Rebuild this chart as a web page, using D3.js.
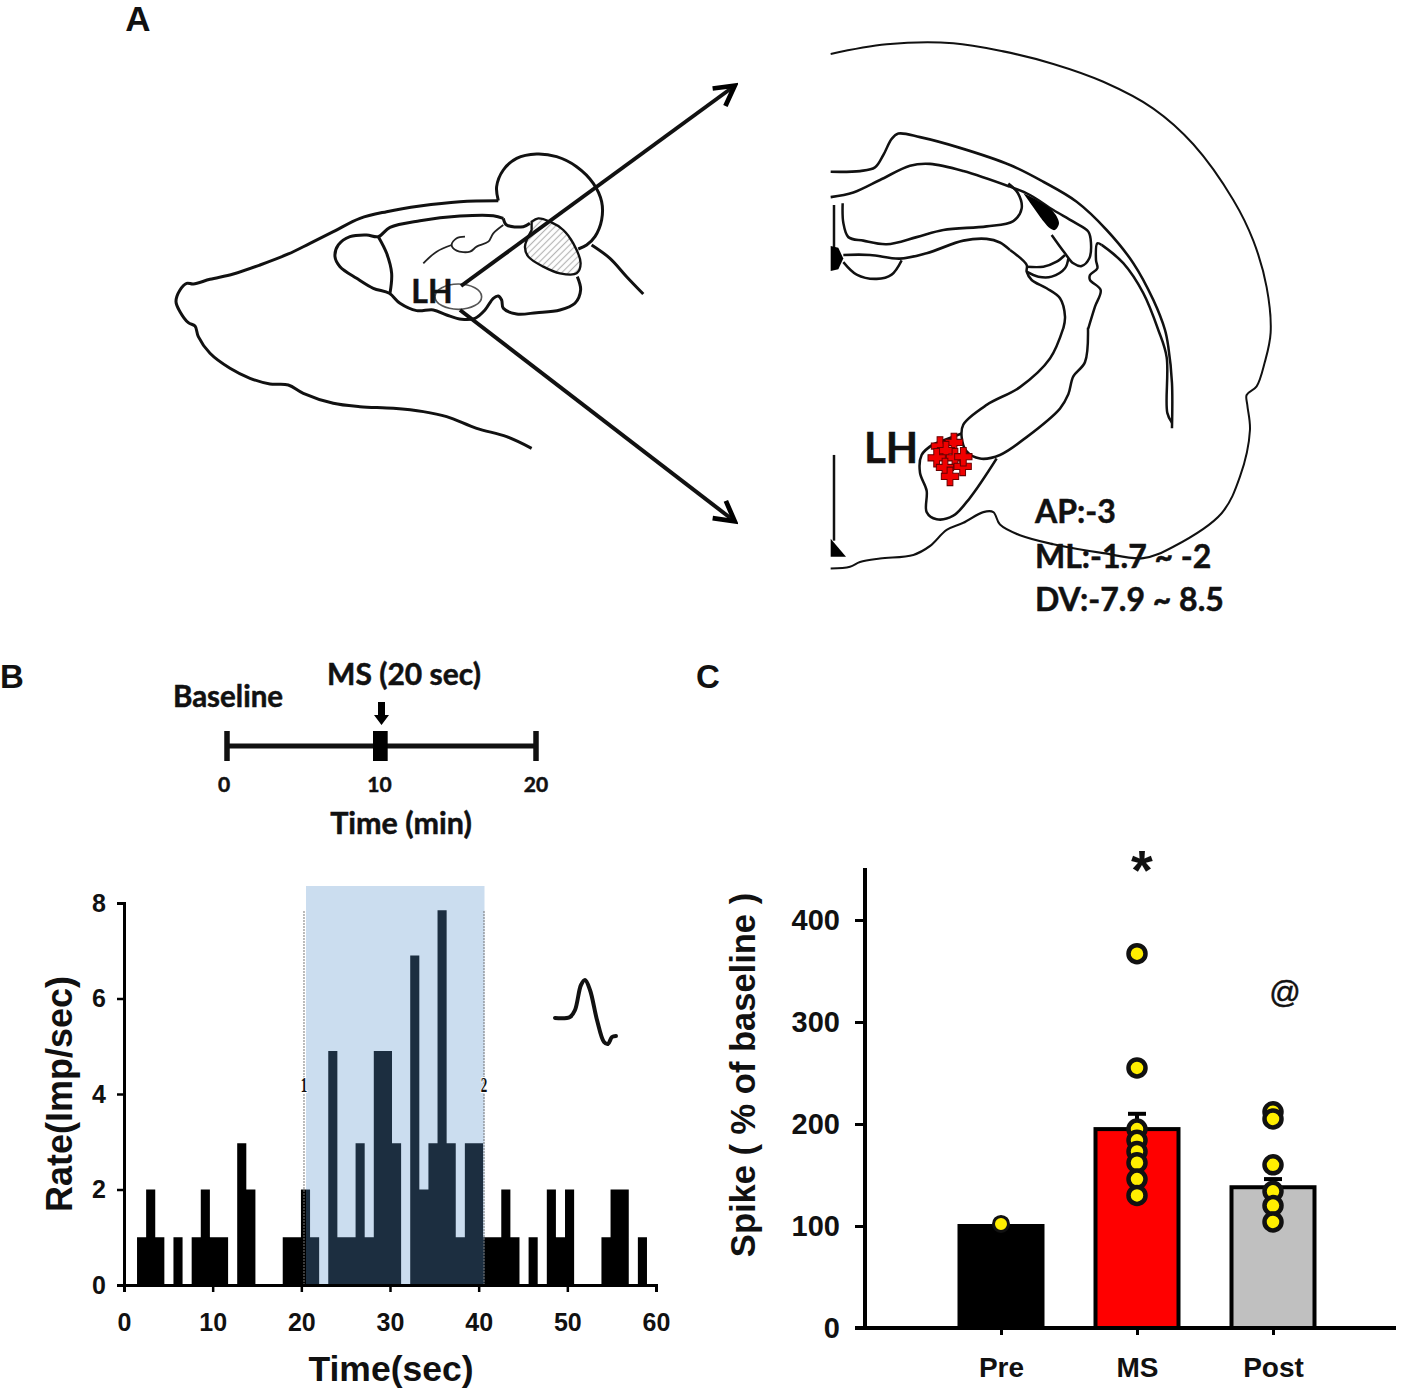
<!DOCTYPE html>
<html>
<head>
<meta charset="utf-8">
<script src="https://cdn.jsdelivr.net/npm/d3@7"></script>
<style>
  html, body { margin: 0; padding: 0; background: #fff; }
  svg { display: block; }
  text { fill: #111; }
  .arial { font-family: "Liberation Sans", sans-serif; font-weight: bold; }
  .calibri { font-family: Lato, "Noto Sans", sans-serif; font-weight: bold; stroke: #111; stroke-width: 0.5px; }
</style>
</head>
<body>
<div id="chart"></div>
<script>
// panel B histogram, rate per bin (bins are about 1 sec wide, first one starts near 1.5 sec)
var binStart = 1.47
var binWidth = 1.027
var rates = [1, 2, 1, 0, 1, 0, 1, 2, 1, 1, 0, 2.97, 2, 0, 0, 0, 1, 1, 2, 1,
             0, 4.9, 1, 1, 2.97, 1, 4.9, 4.9, 2.97, 0, 6.9, 2, 2.97, 7.85, 2.97, 1, 2.97, 2.97, 1, 1,
             2, 1, 0, 1, 0, 2, 1, 2, 0, 0, 0, 1, 2, 2, 0, 1]
var rateTicks = [0, 2, 4, 6, 8]
var timeTicks = [0, 10, 20, 30, 40, 50, 60]
var stimWindow = [20.3, 40.6]

// panel B schedule
var scheduleTicks = [0, 10, 20]
var scheduleStim = [9.45, 10.4]

// panel C
var groups = ["Pre", "MS", "Post"]
var means = [100, 195, 138]
var errors = [0, 15, 8]
var barColors = ["#000000", "#ff0000", "#c0c0c0"]
var preSpikes = [102]
var msSpikes = [367, 255, 195, 184, 173, 162, 146, 130]
var postSpikes = [212, 205, 160, 134, 120, 104]
var spikeTicks = [0, 100, 200, 300, 400]

// panel A drawings, in crop coordinates
var sagittalLines = [
  [[1015,212],[900,215],[780,228],[680,245],[600,265],[520,305],[450,340],[385,372],[300,405],[220,432],[150,448],[100,462],[80,460],[60,480],[48,515],[60,545],[85,578],[105,588],[115,620],[150,670],[210,715],[270,745],[330,762],[385,765],[430,790],[520,820],[600,830],[700,835],[790,845],[860,860],[950,895],[1040,920],[1115,955]],
  [[1015,212],[1010,170],[1030,120],[1070,85],[1130,72],[1190,80],[1250,110],[1300,160],[1325,215],[1325,270],[1305,320],[1280,345],[1255,357]],
  [[1295,345],[1350,385],[1400,440],[1450,492]],
  [[1030,265],[1000,257],[900,258],[780,272],[690,292],[655,320],[620,315],[570,320],[535,345],[525,380],[540,410],[590,445],[640,475],[688,490],[720,520],[770,542],[820,540],[860,555],[905,568],[945,565],[975,540],[1000,505],[1015,498],[1025,510],[1030,535],[1070,552],[1130,548],[1200,540],[1245,520],[1262,480],[1252,440]],
  [[655,320],[680,370],[695,430],[690,490]],
  [[1030,265],[1040,285],[1090,290],[1110,280]]
]
var sagittalThin = [
  [[1030,285],[1000,310],[985,335],[950,350],[930,365],[890,362],[875,345],[890,325],[915,320]],
  [[875,345],[830,365],[790,400]]
]
var hatchOutline = [[1115,275],[1135,265],[1170,275],[1210,300],[1240,340],[1262,400],[1250,430],[1200,430],[1150,410],[1105,380],[1095,350],[1115,300]]
var coronalOuter = [[32,67],[200,40],[400,37],[550,60],[700,95],[850,145],[1000,220],[1120,320],[1240,476],[1300,590],[1340,720],[1352,848],[1334,932],[1310,998],[1280,1022],[1282,1050],[1290,1120],[1260,1251],[1205,1353],[1060,1447],[970,1479],[850,1465],[700,1440],[600,1415],[540,1385],[520,1350],[490,1350],[430,1380],[380,1400],[330,1445],[280,1470],[180,1480],[120,1490],[90,1503],[32,1508]]
var coronalLines = [
  [[32,397],[120,395],[165,385],[190,350],[215,305],[235,290],[300,300],[420,330],[570,378],[670,425],[770,481],[860,560],[940,653],[1000,756],[1035,840],[1045,887],[1056,988],[1056,1115]],
  [[32,468],[100,455],[180,420],[270,380],[330,375],[430,395],[570,439]],
  [[845,602],[910,653],[970,737],[1015,840],[1040,916],[1042,1072],[1056,1100]],
  [[804,834],[795,930],[760,970],[745,1020],[720,1060],[620,1140],[540,1190],[480,1200],[440,1180],[425,1140],[430,1105],[500,1050],[600,1000],[690,920],[730,835]],
  [[570,616],[540,595],[500,585],[430,590],[320,625],[240,640],[150,630],[70,630]],
  [[68,485],[70,540],[85,580],[130,590],[200,600],[290,580],[370,560],[500,550],[580,535],[605,500],[594,457],[565,430]],
  [[70,650],[110,685],[170,697],[215,685],[245,645]],
  [[42,490],[42,610]],
  [[42,1190],[42,1430]],
  [[340,1160],[305,1190],[300,1240],[320,1290],[320,1350],[350,1370],[400,1360],[450,1310],[530,1200]],
  [[340,1160],[425,1130]]
]
var coronalBlobs = [
  [[32,605],[55,610],[70,640],[55,670],[32,675]],
  [[32,1425],[32,1475],[78,1475]]
]
// ventricle detail, from a closer crop
var ventricleLines = [
  [[0,80],[60,105],[130,150],[190,185],[235,215],[243,250],[238,295],[215,318],[190,310],[165,280],[125,225]],
  [[0,270],[50,315],[50,335],[65,360],[110,385],[150,415],[165,470],[160,505]],
  [[50,320],[100,320],[140,305],[165,285]],
  [[50,335],[85,350],[125,350],[165,325],[175,295]],
  [[275,255],[262,250],[258,300],[262,325],[240,345],[240,360],[272,390],[255,440],[235,505]]
]
var ventricleBlob = [[40,100],[80,120],[130,155],[147,190],[135,210],[120,205],[90,170]]
var lhSites = [[360,1165],[402,1155],[378,1178],[350,1198],[405,1198],[375,1225],[428,1222],[390,1250],[430,1195]]
var spikeWave = [[555,1018],[570,1017],[575,1010],[581,985],[585,980],[590,990],[597,1020],[604,1042],[608,1044],[612,1037],[616,1036]]

var svg = d3.select("#chart").append("svg")
  .attr("width", 1418)
  .attr("height", 1397)

var line = d3.line().curve(d3.curveCatmullRom.alpha(0.5))

var label = function(x, y, txt, size, cls, anchor) {
  return svg.append("text")
    .attr("class", cls)
    .attr("x", x)
    .attr("y", y)
    .attr("text-anchor", anchor || "middle")
    .style("font-size", size + "px")
    .text(txt)
}

// ---- panel A ----
label(138, 31, "A", 35, "arial")

var defs = svg.append("defs")
defs.append("marker")
  .attr("id", "head")
  .attr("viewBox", "0 0 12 12")
  .attr("refX", 9).attr("refY", 6)
  .attr("markerWidth", 6.5).attr("markerHeight", 6.5)
  .attr("markerUnits", "strokeWidth")
  .attr("orient", "auto")
  .append("path")
  .attr("d", "M1,1L10,6L1,11")
  .attr("fill", "none")
  .attr("stroke", "#000")
  .attr("stroke-width", 2.2)

var hatch = defs.append("pattern")
  .attr("id", "hatch")
  .attr("width", 14).attr("height", 14)
  .attr("patternUnits", "userSpaceOnUse")
  .attr("patternTransform", "rotate(-45)")
hatch.append("rect").attr("width", 14).attr("height", 14).attr("fill", "#fff")
hatch.append("line").attr("x1", 0).attr("x2", 14).attr("y1", 7).attr("y2", 7)
  .attr("stroke", "#b5b5b5").attr("stroke-width", 3.5)

var sag = svg.append("g").attr("transform", "translate(160,130) scale(0.3333)")
sag.append("path")
  .attr("d", line(hatchOutline) + "Z")
  .attr("fill", "url(#hatch)")
  .attr("stroke", "#111")
  .attr("stroke-width", 7)
sag.selectAll(".sag").data(sagittalLines).enter().append("path")
  .attr("d", line)
  .attr("fill", "none")
  .attr("stroke", "#111")
  .attr("stroke-width", 9)
sag.selectAll(".sagThin").data(sagittalThin).enter().append("path")
  .attr("d", line)
  .attr("fill", "none")
  .attr("stroke", "#222")
  .attr("stroke-width", 5.5)
sag.append("ellipse")
  .attr("cx", 895).attr("cy", 500).attr("rx", 70).attr("ry", 38)
  .attr("fill", "none").attr("stroke", "#555").attr("stroke-width", 5)

label(432, 303, "LH", 32, "calibri")

svg.append("line")
  .attr("x1", 461).attr("y1", 286).attr("x2", 733).attr("y2", 87)
  .attr("stroke", "#111").attr("stroke-width", 4)
  .attr("marker-end", "url(#head)")
svg.append("line")
  .attr("x1", 460).attr("y1", 310).attr("x2", 733).attr("y2", 520)
  .attr("stroke", "#111").attr("stroke-width", 4)
  .attr("marker-end", "url(#head)")

var cor = svg.append("g").attr("transform", "translate(820,30) scale(0.3333,0.3571)")
cor.append("path")
  .attr("d", line(coronalOuter))
  .attr("fill", "none")
  .attr("stroke", "#111")
  .attr("stroke-width", 6)
cor.selectAll(".cor").data(coronalLines).enter().append("path")
  .attr("d", line)
  .attr("fill", "none")
  .attr("stroke", "#111")
  .attr("stroke-width", 7.5)
cor.selectAll(".blob").data(coronalBlobs).enter().append("path")
  .attr("d", function(d) { return d3.line()(d) + "Z" })
  .attr("fill", "#000")
cor.selectAll(".site").data(lhSites).enter().append("path")
  .attr("d", d3.symbol().type(d3.symbolCross).size(1500))
  .attr("transform", function(d) { return "translate(" + d[0] + "," + d[1] + ")" })
  .attr("fill", "#f00000")
  .attr("stroke", "#6a0000")
  .attr("stroke-width", 3)

var vent = svg.append("g").attr("transform", "translate(1010,160) scale(0.3333)")
vent.selectAll(".vent").data(ventricleLines).enter().append("path")
  .attr("d", line)
  .attr("fill", "none")
  .attr("stroke", "#111")
  .attr("stroke-width", 7.5)
vent.append("path")
  .attr("d", line(ventricleBlob) + "Z")
  .attr("fill", "#000")

label(891, 463, "LH", 42, "calibri")
label(1035, 523, "AP:-3", 32, "calibri", "start")
label(1035, 568, "ML:-1.7 ~ -2", 32, "calibri", "start")
label(1035, 611, "DV:-7.9 ~ 8.5", 32, "calibri", "start")

// ---- panel B ----
label(12, 688, "B", 33, "arial")
label(228, 707, "Baseline", 29.5, "calibri")
label(404, 685, "MS (20 sec)", 30, "calibri")
label(401, 834, "Time (min)", 30.5, "calibri")

var sx = d3.scaleLinear().domain([0, 20]).range([227, 536])
svg.append("line")
  .attr("x1", sx(0)).attr("x2", sx(20)).attr("y1", 746).attr("y2", 746)
  .attr("stroke", "#111").attr("stroke-width", 5)
svg.selectAll(".schedTick").data(scheduleTicks).enter().append("line")
  .attr("x1", sx).attr("x2", sx).attr("y1", 731).attr("y2", 761)
  .attr("stroke", "#111").attr("stroke-width", 5.5)
svg.append("rect")
  .attr("x", sx(scheduleStim[0])).attr("width", sx(scheduleStim[1]) - sx(scheduleStim[0]))
  .attr("y", 731).attr("height", 30)
  .attr("fill", "#000")
svg.append("path")
  .attr("d", "M378,702h7v13h4l-7.5,10l-7.5,-10h4z")
  .attr("fill", "#000")
svg.selectAll(".schedLab").data(scheduleTicks).enter().append("text")
  .attr("class", "calibri")
  .attr("x", function(d) { return d == 0 ? 224 : sx(d) - (d == 10 ? 2 : 0) })
  .attr("y", 792)
  .attr("text-anchor", "middle")
  .style("font-size", "21px")
  .text(function(d) { return d })

var x = d3.scaleLinear().domain([0, 60]).range([124, 656])
var y = d3.scaleLinear().domain([0, 8]).range([1285, 903])

// one stepped area, so neighbouring bins do not show seams
var bins = rates.concat([0])
svg.append("path")
  .datum(bins)
  .attr("d", d3.area()
    .curve(d3.curveStepAfter)
    .x(function(d, i) { return x(binStart + i * binWidth) })
    .y0(y(0))
    .y1(function(d) { return y(d) }))
  .attr("fill", "#000")

// the shaded window sits over the bars, which is what darkens them to navy
svg.append("rect")
  .attr("x", 306).attr("y", 886).attr("width", 178.5).attr("height", 399)
  .attr("fill", "#5992cc")
  .attr("fill-opacity", 0.314)

svg.selectAll(".stim").data(stimWindow).enter().append("line")
  .attr("x1", x).attr("x2", x).attr("y1", 911).attr("y2", 1285)
  .attr("stroke", "#777")
  .attr("stroke-width", 1)
  .attr("stroke-dasharray", "2,1")
svg.selectAll(".stimLab").data(stimWindow).enter().append("text")
  .attr("transform", function(d) { return "translate(" + x(d) + ",1092) scale(0.65,1)" })
  .attr("text-anchor", "middle")
  .style("font-family", "'Liberation Serif', serif")
  .style("font-weight", "bold")
  .style("font-size", "20px")
  .style("stroke", "#fff")
  .style("stroke-width", 2)
  .style("paint-order", "stroke")
  .text(function(d, i) { return i + 1 })

var xAxisB = svg.append("g")
  .attr("transform", "translate(0,1285)")
  .call(d3.axisBottom(x).tickValues(timeTicks).tickSize(7).tickPadding(21))
var yAxisB = svg.append("g")
  .attr("transform", "translate(124,0)")
  .call(d3.axisLeft(y).tickValues(rateTicks).tickSize(7).tickPadding(11))
;[xAxisB, yAxisB].forEach(function(a) {
  a.select(".domain").attr("stroke", "#000").attr("stroke-width", 3)
  a.selectAll(".tick line").attr("stroke", "#000").attr("stroke-width", 2.5)
  a.selectAll("text").attr("class", "arial").attr("fill", "#111").style("font-size", "25px")
})

label(391, 1381, "Time(sec)", 35.5, "arial")
svg.append("text")
  .attr("class", "arial")
  .attr("transform", "translate(72,1094) rotate(-90)")
  .attr("text-anchor", "middle")
  .style("font-size", "36px")
  .text("Rate(Imp/sec)")

svg.append("path")
  .attr("d", line(spikeWave))
  .attr("fill", "none")
  .attr("stroke", "#111")
  .attr("stroke-width", 4)
  .attr("stroke-linecap", "round")

// ---- panel C ----
label(708, 688, "C", 33, "arial")

var cx = d3.scalePoint().domain(groups).range([1001, 1273])
var cy = d3.scaleLinear().domain([0, 400]).range([1328, 920])
var barW = 83

svg.selectAll(".bar").data(groups).enter().append("rect")
  .attr("x", function(d) { return cx(d) - barW / 2 })
  .attr("width", barW)
  .attr("y", function(d, i) { return cy(means[i]) })
  .attr("height", function(d, i) { return cy(0) - cy(means[i]) })
  .attr("fill", function(d, i) { return barColors[i] })
  .attr("stroke", "#000")
  .attr("stroke-width", 4)

groups.forEach(function(g, i) {
  if (!errors[i]) return
  svg.append("line")
    .attr("x1", cx(g)).attr("x2", cx(g))
    .attr("y1", cy(means[i])).attr("y2", cy(means[i] + errors[i]))
    .attr("stroke", "#000").attr("stroke-width", 4)
  svg.append("line")
    .attr("x1", cx(g) - 9).attr("x2", cx(g) + 9)
    .attr("y1", cy(means[i] + errors[i])).attr("y2", cy(means[i] + errors[i]))
    .attr("stroke", "#000").attr("stroke-width", 4)
})

;[preSpikes, msSpikes, postSpikes].forEach(function(vals, i) {
  svg.selectAll(".dot" + i).data(vals).enter().append("circle")
    .attr("cx", cx(groups[i]))
    .attr("cy", function(d) { return cy(d) })
    .attr("r", i == 0 ? 7.5 : 8.5)
    .attr("fill", "#ffee00")
    .attr("stroke", "#111")
    .attr("stroke-width", i == 0 ? 3 : 4.5)
})

var xAxisC = svg.append("g")
  .attr("transform", "translate(0,1328)")
  .call(d3.axisBottom(cx).tickSize(7).tickPadding(22))
xAxisC.select(".domain").remove()
svg.append("line")
  .attr("x1", 855).attr("x2", 1396).attr("y1", 1328).attr("y2", 1328)
  .attr("stroke", "#000").attr("stroke-width", 4)
var yAxisC = svg.append("g")
  .attr("transform", "translate(865,0)")
  .call(d3.axisLeft(cy).tickValues(spikeTicks).tickSize(10).tickPadding(15))
yAxisC.select(".domain").remove()
svg.append("line")
  .attr("x1", 865).attr("x2", 865).attr("y1", 868).attr("y2", 1328)
  .attr("stroke", "#000").attr("stroke-width", 4)
xAxisC.selectAll(".tick line").attr("stroke", "#000").attr("stroke-width", 3)
xAxisC.selectAll("text").attr("class", "arial").attr("fill", "#111").style("font-size", "28px")
yAxisC.selectAll(".tick line").attr("stroke", "#000").attr("stroke-width", 3)
yAxisC.selectAll("text").attr("class", "arial").attr("fill", "#111").style("font-size", "29px")

svg.append("text")
  .attr("class", "arial")
  .attr("transform", "translate(755,1075) rotate(-90)")
  .attr("text-anchor", "middle")
  .style("font-size", "34.5px")
  .text("Spike ( % of baseline )")

label(1142, 889, "*", 56, "arial")
label(1285, 1003, "@", 31, "arial").style("font-weight", "normal").style("stroke", "#111").style("stroke-width", "0.5px")
</script>
</body>
</html>
